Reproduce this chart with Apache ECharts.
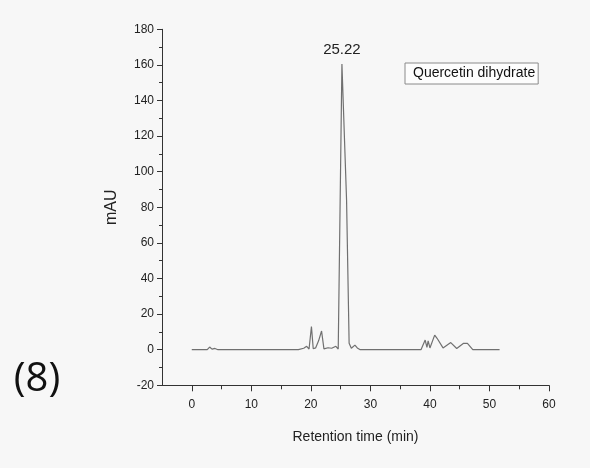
<!DOCTYPE html>
<html>
<head>
<meta charset="utf-8">
<script src="https://cdn.jsdelivr.net/npm/echarts@6/dist/echarts.min.js"></script>
<style>
html,body{margin:0;padding:0;background:#f7f7f7;}
#chart{width:590px;height:468px;}
</style>
</head>
<body>
<div id="chart"></div>
<script>
// Retention time (min) and absorbance (mAU)
var times = [0, 2.6, 3.0, 3.4, 3.9, 4.4, 17.9, 18.8, 19.3, 19.7, 20.1, 20.4, 20.8, 21.3, 21.8, 22.2, 22.9, 23.5, 24.2, 24.6, 24.86, 25.22, 26.0, 26.43, 26.8, 27.4, 27.8, 28.3, 38.5, 39.2, 39.5, 39.7, 40.0, 40.8, 41.2, 42.2, 43.5, 44.5, 45.6, 46.3, 47.2, 51.7];
var mAU   = [0, 0,   1.5, 0.3, 0.7, 0,   0,    0.8,  1.9,  0.4,  13,   0.5,  1.0,  5.0,  10.5, 0.5,  1.1,  0.8,  1.9,  0.4,  1.5,   160.5, 84,   3.6,   0.8,  2.6,  1.0,  0,    0,    5.4,  1.3,  5.0,  1.0,  8.2,  6.4,  1.0,  4.0,  0.7,  3.5,  3.5,  0,    0];
var seriesName = 'Quercetin dihydrate';
var peakLabel = '25.22';
var peakTime = 25.22;
var peakValue = 160.5;
var xTickLabels = [0, 10, 20, 30, 40, 50, 60];
var xMinorTicks = [5, 15, 25, 35, 45, 55];
var yTickLabels = [-20, 0, 20, 40, 60, 80, 100, 120, 140, 160, 180];

var data = times.map(function (t, i) { return [t, mAU[i]]; });

var chart = echarts.init(document.getElementById('chart'), null, {renderer: 'canvas'});
var font = '"Liberation Sans", Arial, sans-serif';
chart.setOption({
  backgroundColor: '#f7f7f7',
  animation: false,
  textStyle: {fontFamily: font},
  grid: {left: 162, right: 41, top: 29.3, bottom: 82.7},
  legend: {
    data: [seriesName],
    left: 405, top: 63,
    itemWidth: 0, itemHeight: 0, itemGap: 0,
    padding: [2, 3, 3, 2],
    borderColor: '#8a8a8a', borderWidth: 1,
    backgroundColor: '#fdfdfd',
    textStyle: {fontSize: 14, lineHeight: 16, color: '#111', fontFamily: font},
    selectedMode: false
  },
  xAxis: [{
    type: 'value', min: -5, max: 60, position: 'bottom',
    name: 'Retention time (min)', nameLocation: 'middle', nameGap: 45,
    nameTextStyle: {fontSize: 14, color: '#222', fontFamily: font},
    axisLine: {show: true, onZero: false, lineStyle: {color: '#333', width: 1}},
    axisTick: {show: true, length: 6, customValues: xTickLabels, lineStyle: {color: '#333'}},
    axisLabel: {show: true, customValues: xTickLabels, margin: 13, fontSize: 12, color: '#222', fontFamily: font},
    splitLine: {show: false}
  }, {
    type: 'value', min: -5, max: 60, position: 'bottom',
    axisLine: {show: false, onZero: false},
    axisTick: {show: true, length: 4, customValues: xMinorTicks, lineStyle: {color: '#333'}},
    axisLabel: {show: false},
    splitLine: {show: false}
  }],
  yAxis: {
    type: 'value', min: -20, max: 180, interval: 20,
    name: 'mAU', nameLocation: 'middle', nameGap: 42,
    nameTextStyle: {fontSize: 16, color: '#222', fontFamily: font},
    axisLine: {show: true, onZero: false, lineStyle: {color: '#333', width: 1}},
    axisTick: {show: true, length: 5, lineStyle: {color: '#333'}},
    minorTick: {show: true, splitNumber: 2, length: 3, lineStyle: {color: '#333'}},
    axisLabel: {margin: 8, fontSize: 12, color: '#222', fontFamily: font},
    splitLine: {show: false}
  },
  series: [{
    name: seriesName,
    type: 'line',
    xAxisIndex: 0,
    data: data,
    showSymbol: false,
    symbol: 'none',
    lineStyle: {color: '#707070', width: 1.2},
    itemStyle: {color: '#707070'},
    markPoint: {
      symbol: 'circle', symbolSize: 0,
      label: {show: true, position: 'top', distance: 7, formatter: peakLabel, fontSize: 15, color: '#222', fontFamily: font},
      data: [{coord: [peakTime, peakValue], value: peakLabel}]
    }
  }],
  graphic: [{
    type: 'text', x: 37, y: 380,
    style: {text: '(8)', fontSize: 40, fontFamily: '"Open Sans", "Noto Sans", sans-serif', fill: '#111', align: 'center', verticalAlign: 'middle'}
  }]
});
</script>
</body>
</html>
